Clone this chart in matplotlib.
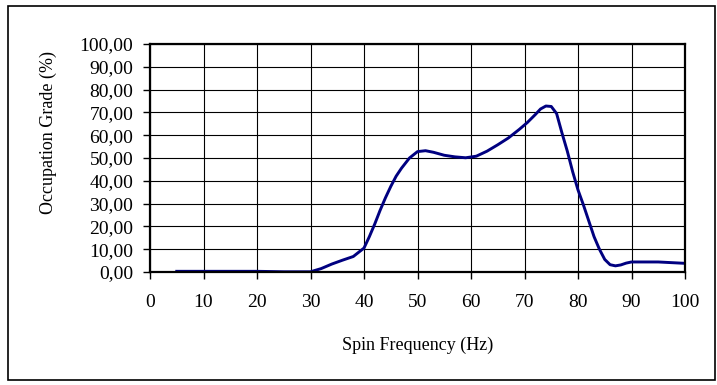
import matplotlib.pyplot as plt
from matplotlib.patches import Rectangle
from matplotlib.ticker import FuncFormatter

plt.rcParams['font.family'] = ['Liberation Serif', 'DejaVu Serif']

# spin frequency (Hz) vs occupation grade (%)
freq = [5, 10, 15, 20, 25, 30, 32, 34, 36, 38, 40, 41, 42, 43, 44, 45, 46, 47,
        48.5, 50, 51.5, 53, 55, 57, 59, 61, 63, 65, 67, 69, 70.5, 72, 73, 74,
        75, 76, 77, 78, 79, 80, 81, 82, 83, 84, 85, 86, 87, 88, 89, 90, 95, 100]
grade = [0.3, 0.3, 0.3, 0.3, 0.1, 0.1, 1.5, 3.5, 5.2, 6.8, 10.5, 15.5, 21, 27,
         32.5, 37.5, 42, 45.5, 50, 52.8, 53.2, 52.5, 51.2, 50.5, 50.1, 50.8, 53,
         55.8, 58.8, 62.5, 65.5, 69, 71.5, 72.8, 72.6, 69.5, 61, 53, 44, 36,
         29.5, 22.5, 15.5, 10, 5.5, 3.2, 2.7, 3.1, 3.9, 4.4, 4.4, 3.8]

x_ticks = list(range(0, 101, 10))
y_ticks = list(range(0, 101, 10))

fig = plt.figure(figsize=(7.17, 3.85), dpi=100)
ax = fig.add_axes([150 / 717, 1 - 272 / 385, 535 / 717, 228 / 385])

ax.plot(freq, grade, color='#000080', lw=2.1, solid_joinstyle='round')

ax.set_xlim(0, 100)
ax.set_ylim(0, 100)
ax.set_xticks(x_ticks)
ax.set_yticks(y_ticks)
ax.yaxis.set_major_formatter(FuncFormatter(lambda v, p: f"{v:.2f}".replace('.', ',')))
ax.grid(True, color='black', lw=0.8)
ax.set_axisbelow(True)
for s in ax.spines.values():
    s.set_linewidth(1.6)
ax.tick_params(axis='both', direction='out', length=5, width=1, labelsize=14)
ax.tick_params(axis='x', pad=11)
ax.tick_params(axis='y', pad=7)

ax.set_xlabel('Spin Frequency (Hz)', fontsize=13, labelpad=18)
ax.set_ylabel('Occupation Grade (%)', fontsize=13)
ax.yaxis.label.set_va('center')
ax.yaxis.set_label_coords(-0.19, 0.61)

# frame around the whole chart
fig.patches.append(Rectangle((8 / 717, 1 - 380 / 385), 707 / 717, 374 / 385,
                             transform=fig.transFigure, fill=False,
                             edgecolor='black', lw=1.2))

fig.savefig('out.png', dpi=100)
